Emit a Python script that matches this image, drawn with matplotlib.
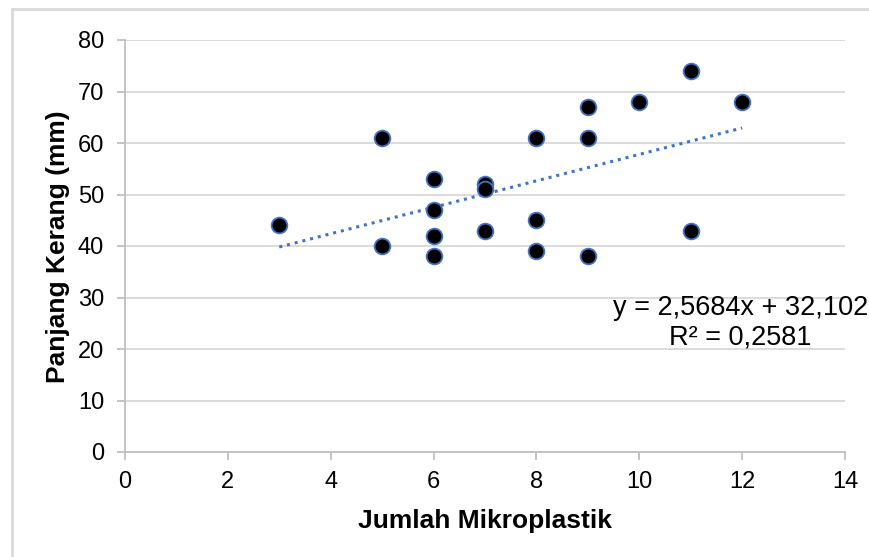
import matplotlib
matplotlib.use("Agg")
import matplotlib.pyplot as plt
import numpy as np
from matplotlib.patches import Rectangle

plt.rcParams['font.family'] = ['Liberation Sans', 'DejaVu Sans']

jumlah_mikroplastik = [3, 5, 5, 6, 6, 6, 6, 7, 7, 7, 8, 8, 8, 9, 9, 9, 10, 11, 11, 12]
panjang_kerang = [44, 61, 40, 53, 47, 42, 38, 52, 51, 43, 61, 45, 39, 67, 61, 38, 68, 74, 43, 68]
x_ticks = [0, 2, 4, 6, 8, 10, 12, 14]
y_ticks = [0, 10, 20, 30, 40, 50, 60, 70, 80]
equation_line = "y = 2,5684x + 32,102"
r2_line = "R² = 0,2581"

W, H = 869, 557
fig = plt.figure(figsize=(W / 100, H / 100), dpi=100)
ax = fig.add_axes([125 / W, 1 - 452 / H, 720 / W, 412 / H])

# outer chart border
fig.patches.append(Rectangle((12 / W, -0.1), 1.2, 1 - 9 / H + 0.1, transform=fig.transFigure,
                             fill=False, edgecolor='#d9d9d9', linewidth=2.0, zorder=0))

x = np.array(jumlah_mikroplastik, dtype=float)
y = np.array(panjang_kerang, dtype=float)
slope, intercept = np.polyfit(x, y, 1)
xt = np.array([x.min(), x.max()])
ax.plot(xt, slope * xt + intercept, linestyle=(0, (1, 1.6)), color='#4472C4', linewidth=2.2, zorder=2)

ax.plot(x, y, linestyle='none', marker='o', markersize=11.3, markerfacecolor='black',
        markeredgecolor='#4472C4', markeredgewidth=1.3, zorder=3, clip_on=False)

ax.set_xlim(0, 14)
ax.set_ylim(0, 80)
ax.set_xticks(x_ticks)
ax.set_yticks(y_ticks)
ax.grid(axis='y', color='#d9d9d9', linewidth=1.3)
ax.set_axisbelow(True)
for s in ['top', 'right']:
    ax.spines[s].set_visible(False)
for s in ['left', 'bottom']:
    ax.spines[s].set_color('#bfbfbf')
    ax.spines[s].set_linewidth(1.3)
ax.tick_params(axis='both', colors='#bfbfbf', length=6, width=1.3, labelcolor='black', labelsize=17)
ax.tick_params(axis='x', pad=7.5)
ax.tick_params(axis='y', pad=9)

fig.text(485 / W, 1 - 528 / H, 'Jumlah Mikroplastik', ha='center', va='baseline',
         fontsize=19, fontweight='bold')
fig.text(58 / W, 1 - 247 / H, 'Panjang Kerang (mm)', ha='center', va='center',
         rotation=90, fontsize=19, fontweight='bold')

fig.text(740.5 / W, 1 - 315 / H, equation_line, ha='center', va='baseline', fontsize=19.5)
fig.text(740 / W, 1 - 344 / H, r2_line, ha='center', va='baseline', fontsize=19.5)

fig.savefig('out.png', dpi=100, facecolor='white')
